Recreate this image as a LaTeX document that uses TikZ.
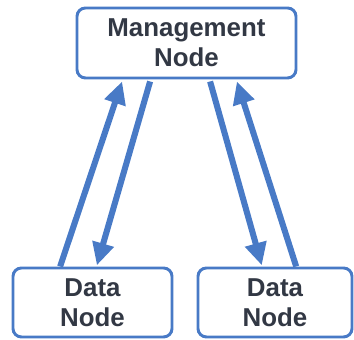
\documentclass[tikz,border=0pt]{standalone}
\usepackage{fontspec}
\setmainfont{Liberation Sans}
\usetikzlibrary{arrows.meta}
\definecolor{linkblue}{RGB}{72,122,198}
\definecolor{labelgray}{RGB}{50,56,68}
\tikzset{
    box/.style={
        rectangle,
        rounded corners=6pt,
        draw=linkblue,
        line width=2.1pt,
        fill=white,
        align=center,
        text=labelgray,
        font=\fontsize{18.4}{21.3}\selectfont\bfseries,
        inner sep=0pt,
    },
    flow/.style={
        draw=linkblue,
        line width=4.3pt,
        -{Triangle[width=15pt,length=16pt]},
    }
}

\begin{document}
\begin{tikzpicture}
    \useasboundingbox (0,0) rectangle (8.85,8.5);
    \node [box,minimum width=5.475cm,minimum height=1.75cm] (mgmt) at (4.6625,7.425) {Management\\Node};
    \node [box,minimum width=3.975cm,minimum height=1.725cm] (dleft) at (2.3125,0.9375) {Data\\Node};
    \node [box,minimum width=3.85cm,minimum height=1.725cm] (dright) at (6.875,0.9375) {Data\\Node};
    % left pair
    \draw[flow] ([xshift=-0.81cm]dleft.north) -- ([xshift=-1.61cm,yshift=-0.05cm]mgmt.south);
    \draw[flow] ([xshift=-0.91cm,yshift=-0.05cm]mgmt.south) -- ([xshift=0.11cm,yshift=0.03cm]dleft.north);
    % right pair
    \draw[flow] ([xshift=0.59cm,yshift=-0.05cm]mgmt.south) -- ([xshift=-0.33cm,yshift=0.03cm]dright.north);
    \draw[flow] ([xshift=0.53cm]dright.north) -- ([xshift=1.26cm,yshift=-0.05cm]mgmt.south);
\end{tikzpicture}
\end{document}
